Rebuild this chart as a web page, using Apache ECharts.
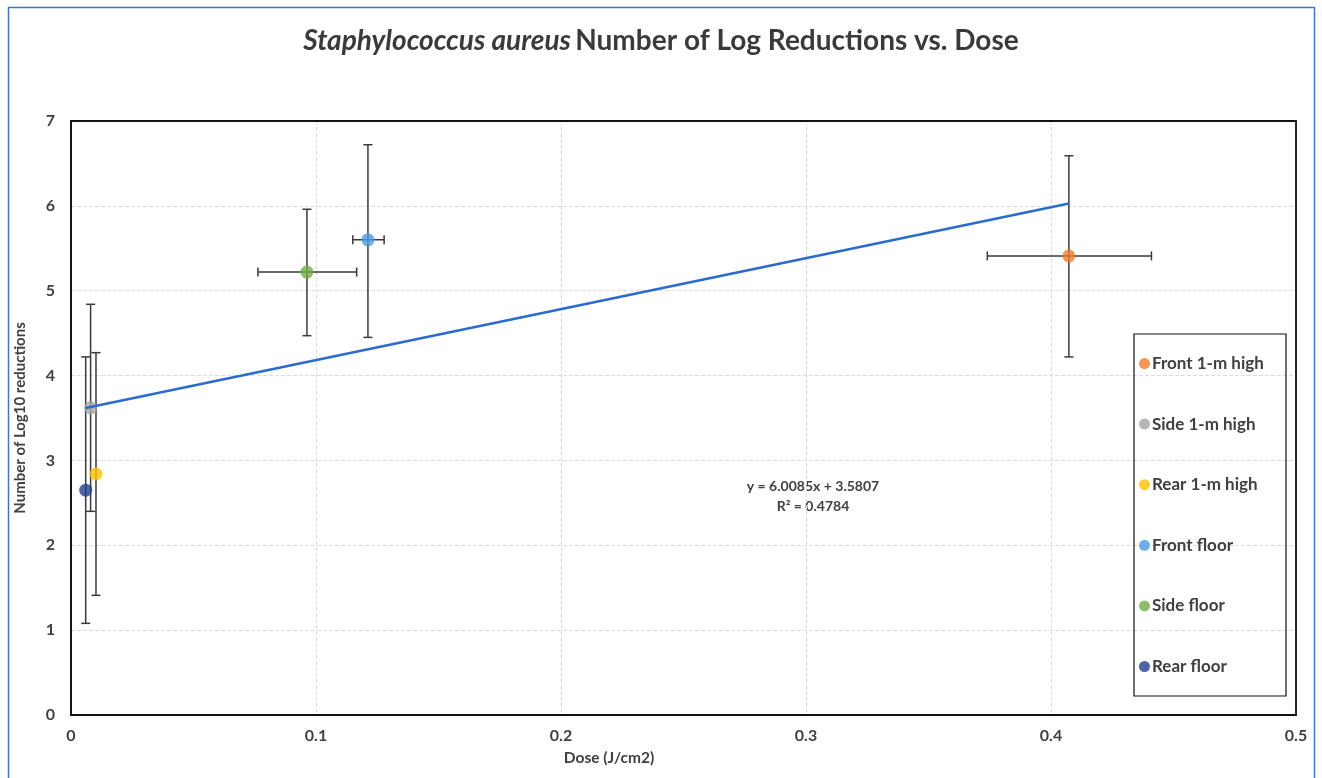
<!DOCTYPE html>
<html>
<head>
<meta charset="utf-8">
<script src="https://cdn.jsdelivr.net/npm/echarts@6/dist/echarts.min.js"></script>
<style>
html,body{margin:0;padding:0;background:#fff;}
#chart{width:1322px;height:778px;}
</style>
</head>
<body>
<div id="chart"></div>
<script>
// ---- data ----
const seriesNames = ['Front 1-m high', 'Side 1-m high', 'Rear 1-m high', 'Front floor', 'Side floor', 'Rear floor'];
const seriesColors = ['#ED7D31', '#A5A5A5', '#FFC000', '#4A9BE6', '#70AD47', '#1F3F8F'];
const doseX = [0.4073, 0.0080, 0.0102, 0.1212, 0.0963, 0.0060];
const logReductions = [5.41, 3.62, 2.84, 5.60, 5.22, 2.65];
const yErrLow = [4.22, 2.40, 1.41, 4.45, 4.47, 1.08];
const yErrHigh = [6.59, 4.84, 4.27, 6.72, 5.96, 4.22];
const xErrLow = [0.374, null, null, 0.115, 0.0763, null];
const xErrHigh = [0.441, null, null, 0.1278, 0.1166, null];
const trendSlope = 6.0085;
const trendIntercept = 3.5807;
const trendR2 = 0.4784;
const xTicks = [0, 0.1, 0.2, 0.3, 0.4, 0.5];
const yTicks = [0, 1, 2, 3, 4, 5, 6, 7];

const FONT = 'Lato';
const TXT = '#404040';

const chart = echarts.init(document.getElementById('chart'));

const errData = doseX.map((x, i) => [x, logReductions[i], yErrLow[i], yErrHigh[i], xErrLow[i], xErrHigh[i]]);

const xMin = Math.min(...doseX), xMax = Math.max(...doseX);
const trendData = [[xMin, trendSlope * xMin + trendIntercept], [xMax, trendSlope * xMax + trendIntercept]];

const series = [];
series.push({
  type: 'custom',
  name: 'errorbars',
  silent: true,
  z: 2,
  data: errData,
  encode: {x: 0, y: 1},
  renderItem: function (params, api) {
    const x = api.value(0), y = api.value(1);
    const yl = api.value(2), yh = api.value(3);
    const xl = api.value(4), xh = api.value(5);
    const cap = 4.5;
    const style = {stroke: '#3a3a3a', lineWidth: 1.5};
    const children = [];
    const pLow = api.coord([x, yl]), pHigh = api.coord([x, yh]);
    children.push({type: 'line', shape: {x1: pLow[0], y1: pLow[1], x2: pHigh[0], y2: pHigh[1]}, style});
    children.push({type: 'line', shape: {x1: pLow[0] - cap, y1: pLow[1], x2: pLow[0] + cap, y2: pLow[1]}, style});
    children.push({type: 'line', shape: {x1: pHigh[0] - cap, y1: pHigh[1], x2: pHigh[0] + cap, y2: pHigh[1]}, style});
    if (xl != null && !isNaN(xl) && xh != null && !isNaN(xh)) {
      const qL = api.coord([xl, y]), qH = api.coord([xh, y]);
      children.push({type: 'line', shape: {x1: qL[0], y1: qL[1], x2: qH[0], y2: qH[1]}, style});
      children.push({type: 'line', shape: {x1: qL[0], y1: qL[1] - cap, x2: qL[0], y2: qL[1] + cap}, style});
      children.push({type: 'line', shape: {x1: qH[0], y1: qH[1] - cap, x2: qH[0], y2: qH[1] + cap}, style});
    }
    return {type: 'group', children};
  }
});

seriesNames.forEach((name, i) => {
  series.push({
    type: 'scatter',
    name: name,
    z: 4,
    symbol: 'circle',
    symbolSize: 13,
    itemStyle: {color: seriesColors[i]},
    data: [[doseX[i], logReductions[i]]]
  });
});

series.push({
  type: 'line',
  name: 'trend',
  z: 5,
  silent: true,
  showSymbol: false,
  symbol: 'none',
  lineStyle: {color: '#2B6ACF', width: 2.5},
  data: trendData
});

const option = {
  backgroundColor: '#ffffff',
  animation: false,
  textStyle: {fontFamily: FONT},
  title: {
    left: 'center',
    top: 22,
    text: '{i|Staphylococcus aureus} {n|Number of Log Reductions vs. Dose}',
    textStyle: {
      rich: {
        i: {fontFamily: FONT, fontStyle: 'italic', fontSize: 28, fontWeight: 'bold', color: '#3a3a3a'},
        n: {fontFamily: FONT, fontSize: 28, fontWeight: 'bold', color: '#3a3a3a'}
      }
    }
  },
  grid: {
    left: 71, right: 26, top: 121, bottom: 63,
    show: false
  },
  legend: {
    orient: 'vertical',
    left: 1139,
    top: 355,
    padding: 0,
    itemGap: 43.6,
    itemWidth: 11,
    itemHeight: 11,
    icon: 'circle',
    data: seriesNames,
    textStyle: {fontFamily: FONT, fontSize: 17, fontWeight: 'bold', color: TXT, padding: [0, 0, 0, -3]}
  },
  xAxis: {
    type: 'value',
    min: 0, max: 0.5, interval: 0.1,
    axisLine: {show: true, lineStyle: {color: '#111', width: 1.5}},
    axisTick: {show: false},
    axisLabel: {
      margin: 13, fontFamily: FONT, fontSize: 16, fontWeight: 'bold', color: TXT,
      formatter: v => {
        const t = xTicks.find(k => Math.abs(k - v) < 1e-9);
        return t === undefined ? '' : String(t);
      }
    },
    splitLine: {show: true, lineStyle: {color: '#dcdcdc', type: 'dashed', width: 1}}
  },
  yAxis: {
    type: 'value',
    min: 0, max: 7, interval: 1,
    name: 'Number of Log10 reductions',
    nameLocation: 'middle',
    nameGap: 43,
    nameTextStyle: {fontFamily: FONT, fontSize: 15, fontWeight: 'bold', color: TXT},
    axisLine: {show: true, lineStyle: {color: '#111', width: 1.5}},
    axisTick: {show: false},
    axisLabel: {
      margin: 16, fontFamily: FONT, fontSize: 16, fontWeight: 'bold', color: TXT,
      formatter: v => {
        const t = yTicks.find(k => Math.abs(k - v) < 1e-9);
        return t === undefined ? '' : String(t);
      }
    },
    splitLine: {show: true, lineStyle: {color: '#dcdcdc', type: 'dashed', width: 1}}
  },
  graphic: [
    {type: 'rect', left: 6, top: 5, shape: {x: 0, y: 0, width: 1306, height: 790}, style: {fill: 'none', stroke: '#4472C4', lineWidth: 1.5}, silent: true},
    {type: 'rect', x: 71, y: 121, z: 100, shape: {x: 0, y: 0, width: 1225, height: 594}, style: {fill: 'none', stroke: '#111', lineWidth: 1.8}, silent: true},
    {type: 'rect', x: 1134, y: 334, z: 100, shape: {x: 0, y: 0, width: 152, height: 362}, style: {fill: 'none', stroke: '#111', lineWidth: 1.2}, silent: true},
    {type: 'text', x: 609, y: 758, style: {text: 'Dose (J/cm2)', fontFamily: FONT, fontSize: 15.5, fontWeight: 'bold', fill: TXT, textAlign: 'center', textVerticalAlign: 'middle'}},
    {type: 'text', x: 813, y: 486, style: {text: 'y = ' + trendSlope.toFixed(4) + 'x + ' + trendIntercept.toFixed(4), fontFamily: FONT, fontSize: 14, fontWeight: 'bold', fill: TXT, textAlign: 'center', textVerticalAlign: 'middle'}},
    {type: 'text', x: 813, y: 506, style: {text: 'R² = ' + trendR2.toFixed(4), fontFamily: FONT, fontSize: 14, fontWeight: 'bold', fill: TXT, textAlign: 'center', textVerticalAlign: 'middle'}}
  ],
  series: series
};

chart.setOption(option);
</script>
</body>
</html>
